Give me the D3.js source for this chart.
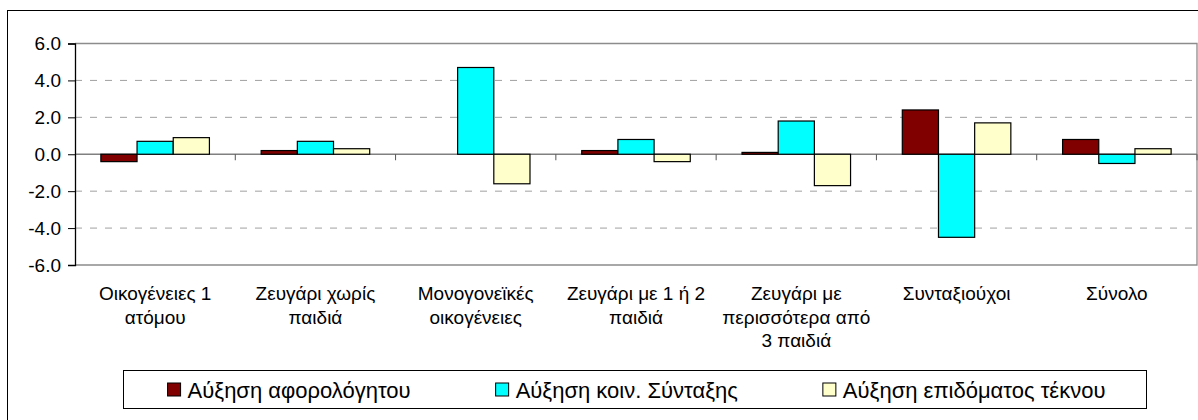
<!DOCTYPE html>
<html>
<head>
<meta charset="utf-8">
<script src="https://cdn.jsdelivr.net/npm/d3@7"></script>
<style>
  body { margin: 0; background: #fff; }
  text { font-family: Arial, "Liberation Sans", sans-serif; fill: #000; }
</style>
</head>
<body>
<div id="chart"></div>
<script>
var categories = [
  'Οικογένειες 1\nατόμου',
  'Ζευγάρι χωρίς\nπαιδιά',
  'Μονογονεϊκές\nοικογένειες',
  'Ζευγάρι με 1 ή 2\nπαιδιά',
  'Ζευγάρι με\nπερισσότερα από\n3 παιδιά',
  'Συνταξιούχοι',
  'Σύνολο'
]
var seriesNames = ['Αύξηση αφορολόγητου', 'Αύξηση κοιν. Σύνταξης', 'Αύξηση επιδόματος τέκνου']
var aforologito = [-0.4, 0.2, 0.0, 0.2, 0.1, 2.4, 0.8]
var syntaxi = [0.7, 0.7, 4.7, 0.8, 1.8, -4.5, -0.5]
var epidoma = [0.9, 0.3, -1.6, -0.4, -1.7, 1.7, 0.3]
var yTicks = [-6, -4, -2, 0, 2, 4, 6]

var color = {
  'Αύξηση αφορολόγητου': '#800000',
  'Αύξηση κοιν. Σύνταξης': '#00ffff',
  'Αύξηση επιδόματος τέκνου': '#ffffcc'
}

var values = [aforologito, syntaxi, epidoma]
var data = categories.map(function(c, i) {
  return { cat: c, vals: seriesNames.map(function(s, j) { return { key: s, v: values[j][i] } }) }
})

var W = 1198, H = 420
var pLeft = 75, pRight = 1197, pTop = 43.5, pBottom = 265

var svg = d3.select('#chart').append('svg').attr('width', W).attr('height', H)
svg.append('rect').attr('width', W).attr('height', H).attr('fill', '#fff')

// outer chart border (runs off the right/bottom edge)
svg.append('rect')
  .attr('x', 7.5).attr('y', 10.5).attr('width', 1260).attr('height', 460)
  .attr('fill', 'none').attr('stroke', '#000')

var x0 = d3.scaleBand().domain(categories).range([pLeft, pRight]).padding(0)
var x1 = d3.scaleBand().domain(seriesNames).range([0, x0.bandwidth()])
  .paddingInner(0).paddingOuter(0.715)
var y = d3.scaleLinear().domain([-6, 6]).range([pBottom, pTop])

var fmt = d3.formatLocale({ decimal: '.', thousands: ',', grouping: [3], currency: ['', ''], minus: '-' }).format('.1f')

// gridlines
svg.append('g').selectAll('line')
  .data(yTicks.filter(function(d) { return d != 0 && Math.abs(d) != 6 }))
  .join('line')
  .attr('x1', pLeft).attr('x2', pRight)
  .attr('y1', function(d) { return y(d) }).attr('y2', function(d) { return y(d) })
  .attr('stroke', '#a0a0a0').attr('stroke-dasharray', '7,8')

// plot area border
svg.append('path')
  .attr('d', 'M' + pLeft + ',' + y(6) + 'H' + pRight + 'V' + y(-6) + 'H' + pLeft)
  .attr('fill', 'none').attr('stroke', '#8c8c8c').attr('stroke-width', 1.3)

// zero line with category separators
var zg = svg.append('g')
zg.append('line')
  .attr('x1', pLeft).attr('x2', pRight).attr('y1', y(0)).attr('y2', y(0))
  .attr('stroke', '#808080').attr('stroke-width', 1.5)
zg.selectAll('.sep')
  .data(categories.slice(1).map(function(c) { return x0(c) }).concat([pRight]))
  .join('line')
  .attr('x1', function(d) { return d }).attr('x2', function(d) { return d })
  .attr('y1', y(0)).attr('y2', y(0) + 6)
  .attr('stroke', '#555')

// bars
var groups = svg.append('g').selectAll('g')
  .data(data).join('g')
  .attr('transform', function(d) { return 'translate(' + x0(d.cat) + ',0)' })

groups.selectAll('rect')
  .data(function(d) { return d.vals.filter(function(e) { return e.v != 0 }) })
  .join('rect')
  .attr('x', function(d) { return x1(d.key) })
  .attr('width', x1.bandwidth())
  .attr('y', function(d) { return y(Math.max(0, d.v)) })
  .attr('height', function(d) { return Math.abs(y(d.v) - y(0)) })
  .attr('fill', function(d) { return color[d.key] })
  .attr('stroke', '#000').attr('stroke-width', 1.2)

// y axis
var ya = svg.append('g').attr('transform', 'translate(' + pLeft + ',0)')
  .call(d3.axisLeft(y).tickValues(yTicks).tickSize(7).tickPadding(7).tickFormat(fmt))
ya.select('.domain').attr('stroke', '#000').attr('stroke-width', 1.3)
ya.selectAll('.tick line').attr('stroke', '#000')
ya.selectAll('text').style('font-size', '19px').style('font-family', 'Arial, "Liberation Sans", sans-serif').attr('fill', '#000')

// category labels
var labels = svg.append('g').selectAll('text')
  .data(categories).join('text')
  .attr('text-anchor', 'middle')
  .style('font-size', '19px')
  .attr('transform', function(d) { return 'translate(' + (x0(d) + x0.bandwidth() / 2) + ',' + (pBottom + 35) + ')' })
labels.selectAll('tspan')
  .data(function(d) { return d.split('\n') })
  .join('tspan')
  .attr('x', 0)
  .attr('y', function(d, i) { return i * 23.5 })
  .text(function(d) { return d })

// legend
var lg = svg.append('g')
var box = lg.append('rect').attr('fill', '#fff').attr('stroke', '#000')
var items = lg.selectAll('g').data(seriesNames).join('g')
items.append('rect')
  .attr('width', 13).attr('height', 13).attr('y', -13)
  .attr('fill', function(d) { return color[d] }).attr('stroke', '#000')
items.append('text')
  .attr('x', 20).attr('y', 1.5)
  .style('font-size', '22px')
  .text(function(d) { return d })

var widths = []
items.each(function(d) {
  widths.push(d3.select(this).select('text').node().getComputedTextLength())
})
var lgTop = 370, lgH = 38
var total = d3.sum(widths) + seriesNames.length * 20 + (seriesNames.length - 1) * 85
var lgW = total + 45 + 40
var lgX = (pLeft + pRight) / 2 - lgW / 2 - 2
box.attr('x', Math.round(lgX) + 0.5).attr('y', lgTop + 0.5).attr('width', Math.round(lgW)).attr('height', lgH)
var cx = lgX + 45
items.attr('transform', function(d, i) {
  var t = 'translate(' + cx + ',' + (lgTop + 26) + ')'
  cx += 20 + widths[i] + 85
  return t
})
</script>
</body>
</html>
